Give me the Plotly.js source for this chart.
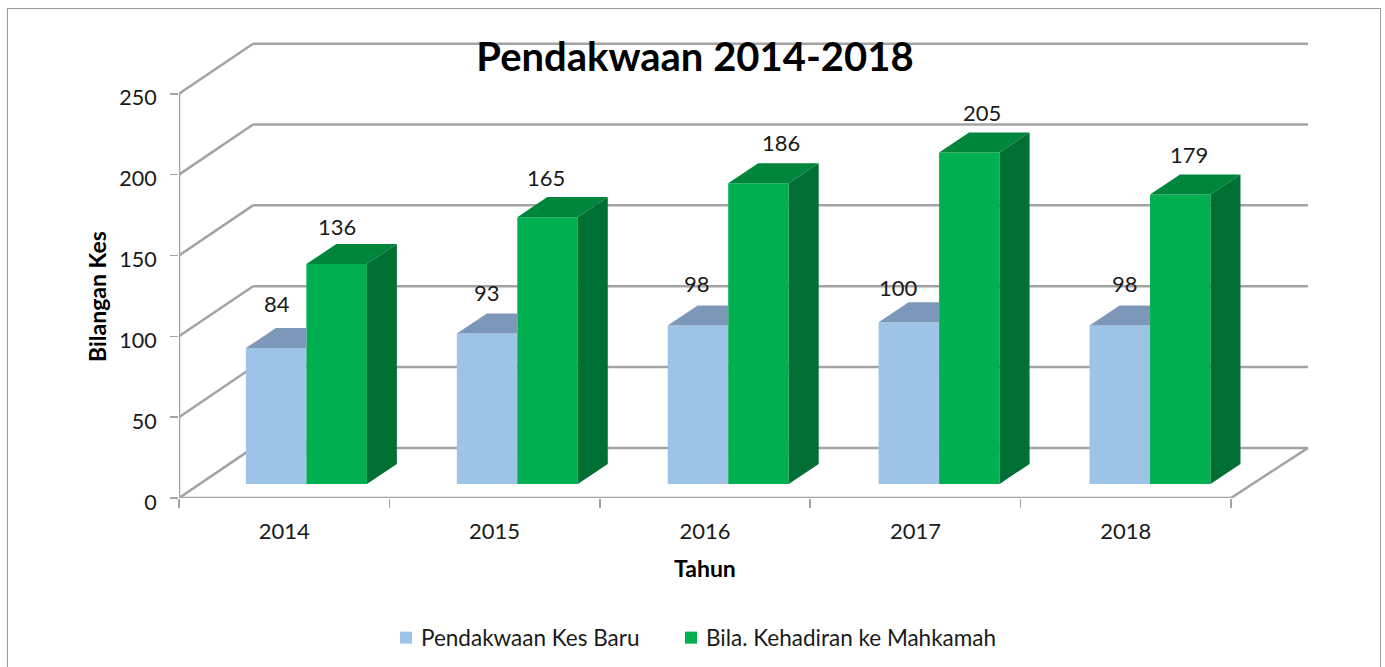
<!DOCTYPE html>
<html>
<head>
<meta charset="utf-8">
<script src="https://cdn.plot.ly/plotly-3.0.1.min.js"></script>
<style>
html,body{margin:0;padding:0;background:#fff;width:1385px;height:667px;overflow:hidden}
#frame{position:absolute;left:7px;top:8px;width:1374px;height:720px;border:1.5px solid #9a9a9a;box-sizing:border-box}
#chart{position:absolute;left:0;top:0;width:1385px;height:667px}
</style>
</head>
<body>
<div id="frame"></div>
<div id="chart"></div>
<script>
const years = ['2014', '2015', '2016', '2017', '2018'];
const kesBaru = [84, 93, 98, 100, 98];
const kehadiran = [136, 165, 186, 205, 179];
const yTicks = [0, 50, 100, 150, 200, 250];
const seriesNames = ['Pendakwaan Kes Baru', 'Bila. Kehadiran ke Mahkamah'];

// label nudges in pixels, as hand-placed in the original
const baruShiftX = [1, 0, -1, -10, 5];
const baruShiftY = [45, 41, 42, 35, 42];
const hadirShiftX = [0, -2, 23, 13, 9];
const hadirShiftY = [38, 40, 41, 40, 40];

// pseudo-3D geometry in axis units
const wallDX = 0.352, wallDY = 31, xEnd = years.length, xBack = 5.366;
const barDX = 0.1425, barDY = 12.4, barBase = 8.7, barW = 0.2875, pitch = 1.0024;
const leftA = 0.318, leftB = leftA + barW;
const colA = '#9DC3E6', colATop = '#7C97B8';
const colB = '#00B050', colBTop = '#00863C', colBSide = '#006F33';
const gridCol = '#a3a3a3';

const idx = years.map((_, i) => i);
const font = 'Lato, "Open Sans", sans-serif';
const ink = '#1a1a1a';

function nanJoin(fn) {
  const xs = [], ys = [];
  idx.forEach(i => { const p = fn(i * pitch); xs.push(...p[0], null); ys.push(...p[1], null); });
  return [xs, ys];
}
function poly(p, color) {
  return {x: p[0], y: p[1], type: 'scatter', mode: 'none', fill: 'toself', fillcolor: color,
          showlegend: false, hoverinfo: 'skip'};
}
function axisLine(xs, ys) {
  return {x: xs, y: ys, type: 'scatter', mode: 'lines', cliponaxis: false,
          line: {color: gridCol, width: 2.5}, showlegend: false, hoverinfo: 'skip'};
}

const traces = [
  {type: 'bar', name: seriesNames[0], x: idx.map(i => i * pitch + leftA), y: kesBaru, base: barBase,
   width: barW, offset: 0, marker: {color: colA, line: {width: 0}}, hoverinfo: 'skip'},
  {type: 'bar', name: seriesNames[1], x: idx.map(i => i * pitch + leftB), y: kehadiran, base: barBase,
   width: barW, offset: 0, marker: {color: colB, line: {width: 0}}, hoverinfo: 'skip'},
  poly(nanJoin(s => {
    const i = Math.round(s / pitch), t = barBase + kesBaru[i], l = s + leftA, r = s + leftB;
    return [[l, l + barDX, r, r], [t, t + barDY, t + barDY, t]];
  }), colATop),
  poly(nanJoin(s => {
    const i = Math.round(s / pitch), t = barBase + kehadiran[i], l = s + leftB, r = l + barW;
    return [[l, l + barDX, r + barDX, r], [t, t + barDY, t + barDY, t]];
  }), colBTop),
  poly(nanJoin(s => {
    const i = Math.round(s / pitch), t = barBase + kehadiran[i], r = s + leftB + barW;
    return [[r, r + barDX, r + barDX, r], [barBase, barBase + barDY, t + barDY, t]];
  }), colBSide),
  axisLine([0, 0], [yTicks[0], yTicks[yTicks.length - 1]]),
  axisLine([0, xEnd], [0, 0])
];

function seg(x0, y0, x1, y1) {
  return {type: 'line', xref: 'x', yref: 'y', x0, y0, x1, y1, layer: 'below',
          line: {color: gridCol, width: 2.5}};
}
const shapes = [];
yTicks.forEach(t => {
  shapes.push(seg(0, t, wallDX, t + wallDY));
  shapes.push(seg(wallDX, t + wallDY, xBack, t + wallDY));
});
shapes.push(seg(xEnd, 0, xBack, wallDY));

const annotations = [];
idx.forEach(i => {
  annotations.push({x: i * pitch + leftA + barW / 2, y: barBase + kesBaru[i], text: String(kesBaru[i]),
    xref: 'x', yref: 'y', showarrow: false, xanchor: 'center', yanchor: 'middle',
    xshift: baruShiftX[i], yshift: baruShiftY[i], font: {family: font, size: 22, color: ink}});
  annotations.push({x: i * pitch + leftB + barW / 2, y: barBase + kehadiran[i], text: String(kehadiran[i]),
    xref: 'x', yref: 'y', showarrow: false, xanchor: 'center', yanchor: 'middle',
    xshift: hadirShiftX[i], yshift: hadirShiftY[i], font: {family: font, size: 22, color: ink}});
});
// axis titles: the original centres them on the front floor, not on the full plot box
const plotTop = 40, plotBottom = 498, plotLeft = 179, plotRight = 1318;
annotations.push({text: '<b>Tahun</b>', xref: 'x', x: xEnd / 2, yref: 'paper', y: (plotBottom - 568) / (plotBottom - plotTop),
  showarrow: false, xanchor: 'center', yanchor: 'middle', font: {family: font, size: 23, color: '#000'}});
annotations.push({text: '<b>Bilangan Kes</b>', xref: 'paper', x: (97 - plotLeft) / (plotRight - plotLeft), yref: 'paper',
  y: (plotBottom - 297) / (plotBottom - plotTop), textangle: -90,
  showarrow: false, xanchor: 'center', yanchor: 'middle', font: {family: font, size: 23, color: '#000'}});

const layout = {
  width: 1385, height: 667,
  margin: {l: plotLeft, r: 1385 - plotRight, t: plotTop, b: 667 - plotBottom, pad: 0},
  paper_bgcolor: 'rgba(0,0,0,0)', plot_bgcolor: 'rgba(0,0,0,0)',
  font: {family: font, color: ink},
  title: {text: '<b>Pendakwaan 2014-2018</b>', x: 695 / 1385, xanchor: 'center', y: 1 - 57 / 667, yanchor: 'middle',
          font: {family: font, size: 40, color: '#000'}},
  barmode: 'overlay',
  xaxis: {
    range: [0, 5.4135], showgrid: false, zeroline: false, showline: false,
    tickmode: 'array', tickvals: idx.map(i => i + 0.5), ticktext: years,
    ticks: 'outside', ticklen: 14, tickcolor: 'rgba(0,0,0,0)', tickfont: {size: 22, color: ink},
    minor: {tickmode: 'array', tickvals: idx.concat([xEnd]), ticks: 'outside', ticklen: 9, tickwidth: 1.5, tickcolor: gridCol, showgrid: false}
  },
  yaxis: {
    range: [0, 283.27], showgrid: false, zeroline: false, showline: false,
    tickmode: 'array', tickvals: yTicks, ticks: 'outside', ticklen: 8, tickwidth: 1.5, tickcolor: gridCol,
    ticklabelstandoff: 9, tickfont: {size: 21.5, color: ink}
  },
  shapes, annotations,
  legend: {orientation: 'h', x: 386 / 1385, xanchor: 'left', xref: 'container', y: 1 - 638 / 667, yref: 'container', yanchor: 'middle',
           font: {size: 22.5, color: ink}, itemclick: false, traceorder: 'normal', bgcolor: 'rgba(0,0,0,0)'},
  showlegend: true
};
Plotly.newPlot('chart', traces, layout, {displayModeBar: false, staticPlot: true}).then(() => {
  document.querySelectorAll('.ytick text').forEach(t => t.setAttribute('dy', '4'));
  document.querySelectorAll('.legendtext').forEach(t => t.setAttribute('dx', '-5'));
  const sb = document.querySelector('.legend .scrollbox');
  if (sb) sb.removeAttribute('clip-path');
  const items = document.querySelectorAll('.legend .traces');
  if (items.length > 1) {
    const m0 = /translate\(([-\d.]+)[ ,]+([-\d.]+)\)/.exec(items[0].getAttribute('transform'));
    const m1 = /translate\(([-\d.]+)[ ,]+([-\d.]+)\)/.exec(items[1].getAttribute('transform'));
    if (m0 && m1) items[1].setAttribute('transform', 'translate(' + (parseFloat(m0[1]) + 285) + ',' + m1[2] + ')');
  }
});
</script>
</body>
</html>
